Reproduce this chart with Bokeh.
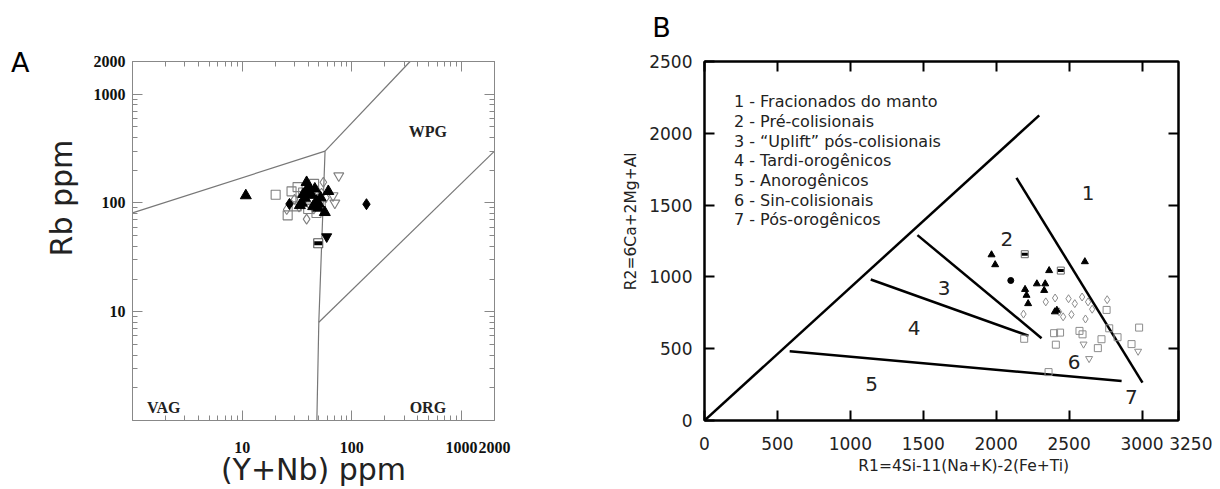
from bokeh.plotting import figure
from bokeh.layouts import row
from bokeh.models import (FixedTicker, LogAxis, LinearAxis, Range1d,
                          PrintfTickFormatter, CustomJSTickFormatter)
from bokeh.core.properties import value
from bokeh.embed import file_html
from bokeh.resources import INLINE

# ---------------- Panel A data: (Y+Nb) ppm vs Rb ppm ----------------
a_tri_fill_x = [10.8, 38.7, 33.6, 37.3, 41.4, 47.6, 49.4, 56.7, 61, 44.4, 35, 40, 43, 39, 46, 52, 36, 50]
a_tri_fill_y = [117, 155, 95, 111, 123, 104, 90, 82, 128, 93, 100, 140, 118, 130, 135, 112, 120, 98]
a_sq_open_x = [20.2, 28.2, 32, 45.3, 26, 47.6, 31.4, 36, 42, 52, 34, 40]
a_sq_open_y = [119, 128, 140, 150, 77, 81, 93, 125, 110, 97, 105, 88]
a_dia_open_x = [25.5, 38.7, 55, 53, 30, 45, 58, 40, 33, 48]
a_dia_open_y = [87, 71, 155, 123, 108, 88, 112, 100, 92, 130]
a_dia_fill_x = [27, 136]
a_dia_fill_y = [98, 97.5]
a_itri_open_x = [76, 70, 67.4]
a_itri_open_y = [178, 100, 117]
a_itri_fill_x = [59]
a_itri_fill_y = [49]
a_sq_half_x = [49.4]
a_sq_half_y = [42.7]

# field boundaries
a_b1_x, a_b1_y = [1, 57], [81, 300]
a_b2_x, a_b2_y = [57, 340], [300, 2000]
a_b3_x, a_b3_y = [57, 50, 48], [300, 8, 1]
a_b4_x, a_b4_y = [50, 2000], [8, 300]

a_fields = ["WPG", "VAG", "ORG"]
a_field_x = [494, 1.93, 494]
a_field_y = [459, 1.33, 1.33]
a_ticks = [10, 100, 1000, 2000]
a_minor = [2, 3, 4, 5, 6, 7, 8, 9, 20, 30, 40, 50, 60, 70, 80, 90,
           200, 300, 400, 500, 600, 700, 800, 900]

# ---------------- Panel B data: R1 vs R2 ----------------
b_tri_fill_x = [1968, 1993, 2363, 2279, 2336, 2329, 2198, 2208, 2219, 2608, 2402, 2416]
b_tri_fill_y = [1154, 1085, 1044, 952, 952, 906, 913, 872, 814, 1106, 757, 768]
b_dia_fill_x = [2100]
b_dia_fill_y = [975]
b_sq_half_x = [2196, 2443]
b_sq_half_y = [1158, 1044]
b_dia_open_x = [2340, 2404, 2496, 2539, 2589, 2630, 2658, 2761, 2187, 2431, 2459, 2516, 2612]
b_dia_open_y = [826, 853, 848, 814, 860, 826, 775, 841, 741, 757, 722, 738, 707]
b_sq_open_x = [2192, 2397, 2438, 2571, 2592, 2757, 2409, 2722, 2697, 2775, 2832, 2928, 2980, 2359]
b_sq_open_y = [569, 608, 612, 624, 600, 770, 528, 566, 504, 642, 580, 532, 647, 337]
b_itri_open_x = [2599, 2637, 2973]
b_itri_open_y = [532, 431, 482]

b_diag_x, b_diag_y = [0, 2295], [0, 2125]
b_l12_x, b_l12_y = [2139, 3003], [1690, 264]
b_l23_x, b_l23_y = [1460, 2311], [1291, 573]
b_l34_x, b_l34_y = [1140, 2221], [982, 590]
b_l45_x, b_l45_y = [584, 2860], [482, 275]

b_region_text = ["1", "2", "3", "4", "5", "6", "7"]
b_region_x = [2630, 2073, 1643, 1437, 1145, 2534, 2927]
b_region_y = [1582, 1261, 922, 647, 252, 406, 162]

b_legend = ["1 - Fracionados do manto", "2 - Pré-colisionais", "3 - \u201cUplift\u201d pós-colisionais",
            "4 - Tardi-orogênicos", "5 - Anorogênicos", "6 - Sin-colisionais", "7 - Pós-orogênicos"]
b_legend_x = [202, 202, 202, 202, 202, 202, 202]
b_legend_y = [2220, 2083, 1946, 1809, 1672, 1535, 1398]
b_xticks = [0, 500, 1000, 1500, 2000, 2500, 3000, 3250]
b_yticks = [0, 500, 1000, 1500, 2000, 2500]

SANS = "DejaVu Sans"
SERIF = "Liberation Serif"
NB = "\u00a0"
BLANK = CustomJSTickFormatter(code="return ''")

# ================= Panel A =================
p1 = figure(width=568, height=489, x_axis_type="log", y_axis_type="log",
            x_range=Range1d(1, 2000), y_range=Range1d(1, 2000),
            output_backend="svg", toolbar_location=None,
            min_border_left=132, min_border_right=74, min_border_top=61, min_border_bottom=66)
p1.grid.grid_line_color = None
p1.outline_line_color = "#888888"
p1.outline_line_width = 1
p1.background_fill_color = "white"
p1.border_fill_color = "white"


def style_log_axis(ax, labels=True):
    ax.ticker = FixedTicker(ticks=a_ticks, minor_ticks=a_minor)
    ax.axis_line_color = "#888888"
    ax.major_tick_line_color = "#888888"
    ax.minor_tick_line_color = "#888888"
    ax.major_tick_in = 10
    ax.major_tick_out = 0
    ax.minor_tick_in = 5
    ax.minor_tick_out = 0
    if labels:
        ax.formatter = PrintfTickFormatter(format="%d")
    else:
        ax.formatter = BLANK
        ax.major_label_standoff = 0
    ax.major_label_text_font = SERIF
    ax.major_label_text_font_style = "bold"
    ax.major_label_text_font_size = "16px"
    ax.major_label_text_color = "#111111"
    ax.axis_label_text_font = SANS
    ax.axis_label_text_font_style = "normal"
    ax.axis_label_text_font_size = "30px"
    ax.axis_label_text_color = "#222222"


style_log_axis(p1.xaxis[0])
style_log_axis(p1.yaxis[0])
p1.xaxis[0].major_label_standoff = 21
p1.yaxis[0].major_label_standoff = 7
p1.xaxis[0].axis_label = "(Y+Nb) ppm"
p1.xaxis[0].axis_label_standoff = -4
p1.yaxis[0].axis_label = NB * 9 + "Rb ppm"
p1.yaxis[0].axis_label_standoff = 12
top1 = LogAxis()
right1 = LogAxis()
style_log_axis(top1, labels=False)
style_log_axis(right1, labels=False)
p1.add_layout(top1, "above")
p1.add_layout(right1, "right")

# panel letter "A", placed as the only label of an outer, line-less axis
letter_a_at = 1958
axA = LogAxis(ticker=FixedTicker(ticks=[letter_a_at]), major_label_overrides={letter_a_at: "A"},
              axis_line_color=None, major_tick_line_color=None, minor_tick_line_color=None,
              major_tick_in=0, major_tick_out=0, major_label_standoff=11,
              major_label_text_font=SANS, major_label_text_font_size="27px",
              major_label_text_color="black")
p1.add_layout(axA, "left")

for bx, by in [(a_b1_x, a_b1_y), (a_b2_x, a_b2_y), (a_b3_x, a_b3_y), (a_b4_x, a_b4_y)]:
    p1.line(bx, by, line_color="#777777", line_width=1.2)

grey = "#808080"
p1.scatter(a_sq_open_x, a_sq_open_y, marker="square", size=9, fill_color=None, line_color=grey, line_width=1.1)
p1.scatter(a_dia_open_x, a_dia_open_y, marker="diamond", size=10, fill_color=None, line_color=grey, line_width=1.1)
p1.scatter(a_itri_open_x, a_itri_open_y, marker="inverted_triangle", size=10, fill_color=None, line_color=grey, line_width=1.1)
p1.scatter(a_tri_fill_x, a_tri_fill_y, marker="triangle", size=11, fill_color="black", line_color="black")
p1.scatter(a_dia_fill_x, a_dia_fill_y, marker="diamond", size=11, fill_color="black", line_color="black")
p1.scatter(a_itri_fill_x, a_itri_fill_y, marker="inverted_triangle", size=10, fill_color="black", line_color="black")
p1.scatter(a_sq_half_x, a_sq_half_y, marker="square", size=9, fill_color="white", line_color="#555555", line_width=1.1)
p1.scatter(a_sq_half_x, a_sq_half_y, marker="dash", size=8, line_color="black", line_width=4)

p1.text(a_field_x, a_field_y, text=a_fields, text_font=value(SERIF), text_font_style="bold",
        text_font_size="16px", text_align="center", text_baseline="middle", text_color="#222222")

# ================= Panel B =================
p2 = figure(width=644, height=489, x_range=Range1d(0, 3250), y_range=Range1d(0, 2500),
            output_backend="svg", toolbar_location=None,
            min_border_left=136, min_border_right=34, min_border_top=58, min_border_bottom=69)
p2.grid.grid_line_color = None
p2.outline_line_color = "black"
p2.outline_line_width = 2
p2.background_fill_color = "white"
p2.border_fill_color = "white"


def style_lin_axis(ax, ticks, labels=True):
    ax.ticker = FixedTicker(ticks=ticks)
    ax.axis_line_color = "black"
    ax.axis_line_width = 2
    ax.major_tick_line_color = "black"
    ax.major_tick_line_width = 2
    ax.minor_tick_line_color = None
    ax.major_tick_in = 10
    ax.major_tick_out = 0
    if not labels:
        ax.formatter = BLANK
        ax.major_label_standoff = 0
    ax.major_label_text_font = SANS
    ax.major_label_text_font_size = "17px"
    ax.major_label_text_color = "#222222"
    ax.axis_label_text_font = SANS
    ax.axis_label_text_font_style = "normal"
    ax.axis_label_text_font_size = "15.5px"
    ax.axis_label_text_color = "#222222"


style_lin_axis(p2.xaxis[0], b_xticks)
style_lin_axis(p2.yaxis[0], b_yticks)
p2.xaxis[0].major_label_standoff = 13
p2.yaxis[0].major_label_standoff = 12
p2.xaxis[0].major_label_overrides = {3250: NB * 5 + "3250"}
p2.xaxis[0].axis_label = NB * 9 + "R1=4Si-11(Na+K)-2(Fe+Ti)"
p2.xaxis[0].axis_label_standoff = 0
p2.yaxis[0].axis_label = NB * 8 + "R2=6Ca+2Mg+Al"
p2.yaxis[0].axis_label_standoff = 6

# top axis: ticks 500..3000 with blank labels; the label at 0 carries the panel letter "B"
top2 = LinearAxis()
style_lin_axis(top2, b_xticks[:-1], labels=False)
top2.major_label_overrides = {0: "B" + NB * 10}
top2.major_label_text_font_size = "27px"
top2.major_label_text_color = "black"
top2.major_label_standoff = 19
right2 = LinearAxis()
style_lin_axis(right2, b_yticks[1:-1], labels=False)
p2.add_layout(top2, "above")
p2.add_layout(right2, "right")

for bx, by in [(b_diag_x, b_diag_y), (b_l12_x, b_l12_y), (b_l23_x, b_l23_y), (b_l34_x, b_l34_y), (b_l45_x, b_l45_y)]:
    p2.line(bx, by, line_color="black", line_width=2.5)

lg = "#8c8c8c"
p2.scatter(b_sq_open_x, b_sq_open_y, marker="square", size=7, fill_color=None, line_color=lg, line_width=1)
p2.scatter(b_dia_open_x, b_dia_open_y, marker="diamond", size=8, fill_color=None, line_color=lg, line_width=1)
p2.scatter(b_itri_open_x, b_itri_open_y, marker="inverted_triangle", size=7, fill_color=None, line_color=lg, line_width=1)
p2.scatter(b_tri_fill_x, b_tri_fill_y, marker="triangle", size=7, fill_color="black", line_color="black")
p2.scatter(b_dia_fill_x, b_dia_fill_y, marker="circle", size=6, fill_color="black", line_color="black")
p2.scatter(b_sq_half_x, b_sq_half_y, marker="square", size=7, fill_color="white", line_color="#666666", line_width=1)
p2.scatter(b_sq_half_x, b_sq_half_y, marker="dash", size=6, line_color="black", line_width=3)

p2.text(b_region_x, b_region_y, text=b_region_text, text_font=value(SANS), text_font_size="20px",
        text_align="center", text_baseline="middle", text_color="#222222")
p2.text(b_legend_x, b_legend_y, text=b_legend, text_font=value(SANS), text_font_size="16px",
        text_align="left", text_baseline="middle", text_color="#222222")

layout = row(p1, p2)
open("out.html", "w").write(file_html(layout, INLINE))
